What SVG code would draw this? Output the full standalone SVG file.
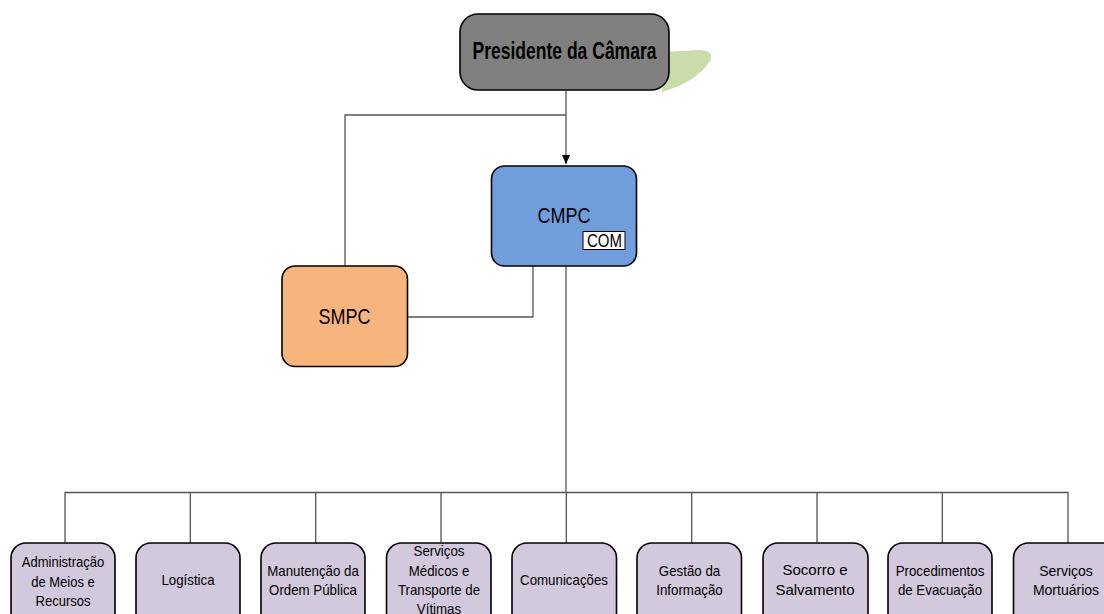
<svg xmlns="http://www.w3.org/2000/svg" width="1104" height="614" viewBox="0 0 1104 614">
<defs>
<style>
.conn{fill:none;stroke:#555;stroke-width:1.3}
.node{stroke:#000;stroke-width:1.6}
.leaf{fill:#d2c9dd}
.t{font-family:"Liberation Sans",Arial,sans-serif;fill:#000;text-anchor:middle}
.lt{font-size:14px}
</style>
<marker id="arr" markerWidth="10" markerHeight="10" refX="9" refY="5" orient="auto" markerUnits="userSpaceOnUse">
<path d="M0,1 L9,5 L0,9 Z" fill="#000"/>
</marker>
</defs>
<rect width="1104" height="614" fill="#fff"/>
<path d="M664,52 L700,50 Q715,51 710,61 Q696,82 662,92 Z" fill="#c9dca9"/>
<g id="connectors">
<path class="conn" d="M566,91 V164" marker-end="url(#arr)"/>
<path class="conn" d="M566,115 H345 V266"/>
<path class="conn" d="M408,317 H533 V266"/>
<path class="conn" d="M566,266 V492"/>
<path class="conn" d="M65,543 V492.5 H1068 V543"/>
<path class="conn" d="M190.3,492.5 V543 M315.7,492.5 V543 M441,492.5 V543 M566.3,492.5 V543 M691.7,492.5 V543 M817,492.5 V543 M942.3,492.5 V543"/>
</g>
<g id="presidente">
<rect class="node" x="460" y="14" width="209" height="76" rx="18" fill="#808080"/>
<text class="t" x="564.5" y="59" font-size="23" font-weight="bold" textLength="184" lengthAdjust="spacingAndGlyphs">Presidente da Câmara</text>
</g>
<g id="cmpc">
<rect class="node" x="491.5" y="166" width="145" height="100" rx="13" fill="#6f9edb"/>
<text class="t" x="564" y="223" font-size="22" textLength="53" lengthAdjust="spacingAndGlyphs">CMPC</text>
<rect x="583" y="231.5" width="42" height="18" fill="#fff" stroke="#000" stroke-width="1"/>
<text class="t" x="604.5" y="247" font-size="18" textLength="35" lengthAdjust="spacingAndGlyphs">COM</text>
</g>
<g id="smpc">
<rect class="node" x="282" y="266" width="125.5" height="100.5" rx="13" fill="#f7b57e"/>
<text class="t" x="344.5" y="324" font-size="22" textLength="52" lengthAdjust="spacingAndGlyphs">SMPC</text>
</g>
<g id="n1">
<rect class="node leaf" x="11" y="543" width="104" height="95" rx="15"/>
<g transform="translate(63 0) scale(0.93 1)"><text class="t lt" x="0" y="567">Administração</text><text class="t lt" x="0" y="587">de Meios e</text><text class="t lt" x="0" y="606">Recursos</text></g>
</g>
<g id="n2">
<rect class="node leaf" x="136" y="543" width="104" height="95" rx="15"/>
<g transform="translate(188 0) scale(0.95 1)"><text class="t lt" x="0" y="585">Logística</text></g>
</g>
<g id="n3">
<rect class="node leaf" x="261" y="543" width="104" height="95" rx="15"/>
<g transform="translate(313 0) scale(0.95 1)"><text class="t lt" x="0" y="576">Manutenção da</text><text class="t lt" x="0" y="595">Ordem Pública</text></g>
</g>
<g id="n4">
<rect class="node leaf" x="386.5" y="543" width="104.5" height="95" rx="15"/>
<g transform="translate(439 0) scale(0.95 1)"><text class="t lt" x="0" y="556">Serviços</text><text class="t lt" x="0" y="576">Médicos e</text><text class="t lt" x="0" y="595">Transporte de</text><text class="t lt" x="0" y="614">Vítimas</text></g>
</g>
<g id="n5">
<rect class="node leaf" x="512" y="543" width="104.5" height="95" rx="15"/>
<g transform="translate(564 0) scale(0.95 1)"><text class="t lt" x="0" y="585">Comunicações</text></g>
</g>
<g id="n6">
<rect class="node leaf" x="637" y="543" width="104.5" height="95" rx="15"/>
<g transform="translate(689.5 0) scale(0.95 1)"><text class="t lt" x="0" y="576">Gestão da</text><text class="t lt" x="0" y="595">Informação</text></g>
</g>
<g id="n7">
<rect class="node leaf" x="763" y="543" width="105" height="95" rx="15"/>
<text class="t" x="815" y="575" font-size="15">Socorro e</text><text class="t" x="815" y="595" font-size="15">Salvamento</text>
</g>
<g id="n8">
<rect class="node leaf" x="888" y="543" width="104" height="95" rx="15"/>
<g transform="translate(940 0) scale(0.95 1)"><text class="t lt" x="0" y="576">Procedimentos</text><text class="t lt" x="0" y="595">de Evacuação</text></g>
</g>
<g id="n9">
<rect class="node leaf" x="1013.5" y="543" width="105" height="95" rx="15"/>
<text class="t lt" x="1066" y="576">Serviços</text><text class="t lt" x="1066" y="595">Mortuários</text>
</g>
</svg>
